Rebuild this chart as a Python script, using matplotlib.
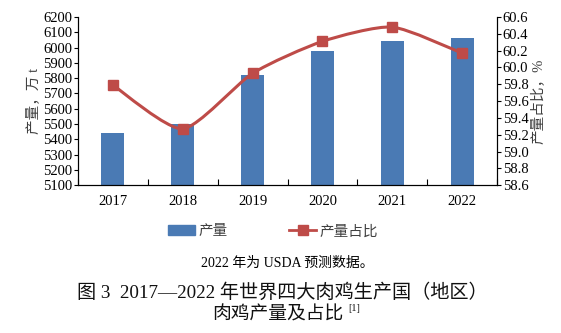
import matplotlib
matplotlib.use("Agg")
import matplotlib.pyplot as plt
import numpy as np
from matplotlib.lines import Line2D
from matplotlib.patches import Patch, PathPatch
from matplotlib.path import Path

years = ["2017", "2018", "2019", "2020", "2021", "2022"]
output = [5440, 5500, 5820, 5980, 6043, 6063]   # 万 t
share = [59.79, 59.27, 59.93, 60.31, 60.48, 60.17]  # %

plt.rcParams['font.family'] = ['Liberation Serif', 'Noto Sans CJK SC']
plt.rcParams['axes.unicode_minus'] = False

blue = '#4A7AB4'
red = '#BE4B48'
grey = '#404040'

fig = plt.figure(figsize=(5.61, 3.33), dpi=100)
ax = fig.add_axes([0.139, 0.444, 0.747, 0.505])
x = np.arange(len(years))

ax.bar(x, output, width=0.33, color=blue, zorder=2)
ax.set_ylim(5100, 6200)
ax.set_yticks(np.arange(5100, 6201, 100))
ax.set_xlim(-0.5, len(years) - 0.5)
ax.set_xticks(np.arange(-0.5, len(years), 1.0))
ax.set_xticklabels([])
ax.set_xticks(x, minor=True)
ax.set_xticklabels(years, minor=True)
ax.tick_params(axis='x', which='major', direction='in', length=4, width=0.8)
ax.tick_params(axis='x', which='minor', length=0, pad=7, labelsize=10.5)
ax.tick_params(axis='y', direction='out', length=3, width=0.8, labelsize=10.5, pad=1)
ax.spines['top'].set_visible(False)
ax.set_ylabel('产量，万 t', fontsize=10.5, color=grey, labelpad=2)

ax2 = ax.twinx()
# lightly smoothed line, control points from neighbouring data
px = x.astype(float)
py = np.array(share)
k = 9.0
verts = [(px[0], py[0])]
codes = [Path.MOVETO]
for i in range(len(px) - 1):
    p0 = (px[max(i - 1, 0)], py[max(i - 1, 0)])
    p1 = (px[i], py[i])
    p2 = (px[i + 1], py[i + 1])
    p3 = (px[min(i + 2, len(px) - 1)], py[min(i + 2, len(px) - 1)])
    c1 = (p1[0] + (p2[0] - p0[0]) / k, p1[1] + (p2[1] - p0[1]) / k)
    c2 = (p2[0] - (p3[0] - p1[0]) / k, p2[1] - (p3[1] - p1[1]) / k)
    verts += [c1, c2, p2]
    codes += [Path.CURVE4] * 3
ax2.add_patch(PathPatch(Path(verts, codes), fill=False, edgecolor=red, lw=2.2, zorder=3))
ax2.plot(x, share, ls='none', marker='s', markersize=7, color=red, zorder=4)
ax2.set_ylim(58.6, 60.6)
ax2.set_yticks(np.arange(58.6, 60.61, 0.2))
ax2.set_yticklabels([f"{v:.1f}" for v in np.arange(58.6, 60.61, 0.2)])
ax2.tick_params(axis='y', direction='out', length=3, width=0.8, labelsize=10.5, pad=1)
ax2.spines['top'].set_visible(False)
ax2.set_ylabel('产量占比，%', fontsize=10.5, color=grey, labelpad=2)

handles = [Patch(color=blue), Line2D([], [], color=red, lw=2, marker='s', markersize=7)]
leg = fig.legend(handles, ['产量', '产量占比'], loc='center', bbox_to_anchor=(0.486, 0.305),
                 ncol=2, frameon=False, columnspacing=4.2, handlelength=1.9,
                 handletextpad=0.2, prop={'family': ['Noto Sans CJK SC'], 'size': 10.5})
for t in leg.get_texts():
    t.set_color(grey)

fig.text(0.512, 0.21, '2022 年为 USDA 预测数据。', ha='center', va='center', fontsize=10)
fig.text(0.503, 0.12, '图 3  2017—2022 年世界四大肉鸡生产国（地区）', ha='center', va='center',
         fontsize=13.8, color='#111111')
fig.text(0.496, 0.058, '肉鸡产量及占比', ha='center', va='center',
         fontsize=13.5, family=['Noto Sans CJK SC'], color='#111111')
fig.text(0.621, 0.075, '[1]', ha='left', va='center', fontsize=7.5, color='#111111')

fig.savefig('out.png', dpi=100)
